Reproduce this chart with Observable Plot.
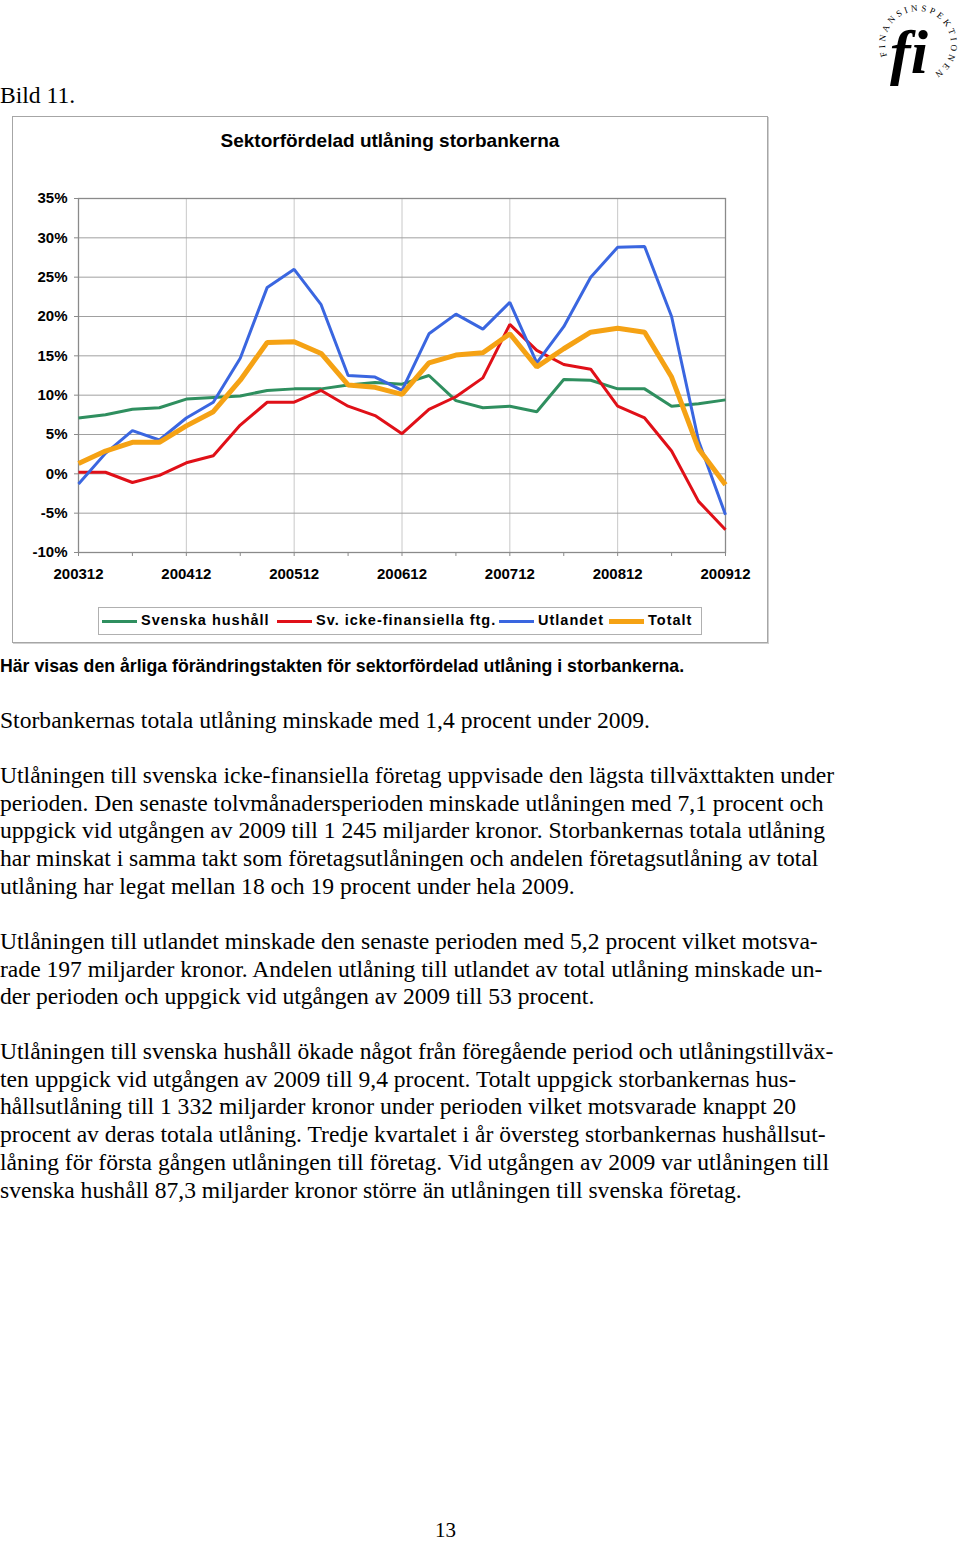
<!DOCTYPE html>
<html>
<head>
<meta charset="utf-8">
<script src="https://cdn.jsdelivr.net/npm/d3@7"></script>
<script src="https://cdn.jsdelivr.net/npm/@observablehq/plot@0.6"></script>
<style>
  html, body { margin: 0; padding: 0; background: #fff; }
  body { width: 960px; height: 1542px; position: relative; overflow: hidden; }
  .serif { font-family: "Liberation Serif", "Times New Roman", serif; font-size: 23.6px; color: #000; }
  .abs { position: absolute; white-space: nowrap; }
  .para { position: absolute; left: 0; line-height: 27.7px; white-space: nowrap; }
  #frame { position: absolute; left: 12px; top: 116px; width: 754px; height: 525px; border: 1px solid #a6a6a6; box-shadow: 1px 1px 0 #d0d0d0; }
  #title { position: absolute; left: 0; width: 754px; top: 13px; text-align: center; font-family: "Liberation Sans", Arial, sans-serif; font-weight: bold; font-size: 19px; }
  #plot { position: absolute; left: 0; top: 59px; }
  #legend { position: absolute; left: 85px; top: 490px; width: 602px; height: 26px; border: 1px solid #b0b0b0; font-family: "Liberation Sans", Arial, sans-serif; font-weight: bold; font-size: 14.5px; letter-spacing: 1px; }
  #legend .sw { position: absolute; width: 35px; }
  #legend .lab { position: absolute; top: 4px; white-space: nowrap; }
  #caption { position: absolute; left: 0; top: 656px; font-family: "Liberation Sans", Arial, sans-serif; font-weight: bold; font-size: 17.7px; white-space: nowrap; }
</style>
</head>
<body>
<svg id="logo" width="98" height="90" style="position:absolute;left:862px;top:0px" viewBox="0 0 98 90">
  <defs>
    <path id="ring" d="M 25.2 55.8 A 33 33 0 1 1 68.9 74.4"/>
  </defs>
  <text font-family="Liberation Serif, serif" font-size="9" letter-spacing="0"><textPath href="#ring" textLength="150" lengthAdjust="spacing">FINANSINSPEKTIONEN</textPath></text>
  <text x="47" y="73" text-anchor="middle" font-family="Liberation Serif, serif" font-style="italic" font-weight="bold" font-size="62">fi</text>
</svg>

<div class="abs serif" style="left:0;top:82px;">Bild 11.</div>

<div id="frame">
  <div id="title">Sektorfördelad utlåning storbankerna</div>
  <div id="plot"></div>
  <div id="legend"></div>
</div>

<div id="caption">Här visas den årliga förändringstakten för sektorfördelad utlåning i storbankerna.</div>

<div class="para serif" style="top:707px;">Storbankernas totala utlåning minskade med 1,4 procent under 2009.</div>
<div class="para serif" style="top:762px;">Utlåningen till svenska icke-finansiella företag uppvisade den lägsta tillväxttakten under<br>perioden. Den senaste tolvmånadersperioden minskade utlåningen med 7,1 procent och<br>uppgick vid utgången av 2009 till 1 245 miljarder kronor. Storbankernas totala utlåning<br>har minskat i samma takt som företagsutlåningen och andelen företagsutlåning av total<br>utlåning har legat mellan 18 och 19 procent under hela 2009.</div>
<div class="para serif" style="top:928px;">Utlåningen till utlandet minskade den senaste perioden med 5,2 procent vilket motsva-<br>rade 197 miljarder kronor. Andelen utlåning till utlandet av total utlåning minskade un-<br>der perioden och uppgick vid utgången av 2009 till 53 procent.</div>
<div class="para serif" style="top:1038px;">Utlåningen till svenska hushåll ökade något från föregående period och utlåningstillväx-<br>ten uppgick vid utgången av 2009 till 9,4 procent. Totalt uppgick storbankernas hus-<br>hållsutlåning till 1 332 miljarder kronor under perioden vilket motsvarade knappt 20<br>procent av deras totala utlåning. Tredje kvartalet i år översteg storbankernas hushållsut-<br>låning för första gången utlåningen till företag. Vid utgången av 2009 var utlåningen till<br>svenska hushåll 87,3 miljarder kronor större än utlåningen till svenska företag.</div>

<div class="abs serif" style="left:435px;top:1518px;font-size:21px;">13</div>

<script>
// ---- data ----
const periods = ["200312","200403","200406","200409","200412","200503","200506","200509","200512",
  "200603","200606","200609","200612","200703","200706","200709","200712",
  "200803","200806","200809","200812","200903","200906","200909","200912"];
const hushall  = [7.1, 7.5, 8.2, 8.4, 9.5, 9.7, 9.9, 10.6, 10.8, 10.8, 11.3, 11.6, 11.4,
  12.5, 9.3, 8.4, 8.6, 7.9, 12.0, 11.9, 10.8, 10.8, 8.6, 8.9, 9.4];
const foretag  = [0.2, 0.2, -1.1, -0.2, 1.4, 2.3, 6.2, 9.1, 9.1, 10.6, 8.6, 7.4, 5.1,
  8.2, 9.8, 12.2, 19.0, 15.7, 13.9, 13.3, 8.6, 7.1, 2.9, -3.5, -7.1];
const utlandet = [-1.3, 2.6, 5.5, 4.3, 7.1, 9.1, 14.7, 23.7, 26.0, 21.5, 12.5, 12.3, 10.6,
  17.8, 20.3, 18.4, 21.8, 14.1, 18.7, 25.0, 28.8, 28.9, 20.0, 4.2, -5.2];
const totalt   = [1.3, 2.9, 4.0, 4.0, 6.1, 7.9, 11.9, 16.7, 16.8, 15.3, 11.3, 11.0, 10.1,
  14.1, 15.1, 15.4, 17.8, 13.6, 15.9, 18.0, 18.5, 18.0, 12.3, 3.2, -1.4];
const seriesNames  = ["Svenska hushåll", "Sv. icke-finansiella ftg.", "Utlandet", "Totalt"];
const seriesValues = [hushall, foretag, utlandet, totalt];
const seriesColors = ["#2f8f5f", "#e01018", "#3a66e0", "#f5a214"];
const seriesWidths = [3, 3, 3, 5];
const yTicks = [-10, -5, 0, 5, 10, 15, 20, 25, 30, 35];
const yearTicks = ["200312","200412","200512","200612","200712","200812","200912"];
const halfYearTicks = periods.filter((p, i) => i % 2 === 0);

// ---- chart ----
const font = "Liberation Sans, Arial, sans-serif";
const idx = p => periods.indexOf(p);
const lineMarks = seriesNames.map((name, s) =>
  Plot.line(periods.map((p, i) => ({q: idx(p), value: seriesValues[s][i]})), {
    x: "q", y: "value", stroke: seriesColors[s], strokeWidth: seriesWidths[s],
    strokeLinejoin: "miter", strokeLinecap: "butt"
  })
);

const chart = Plot.plot({
  width: 754, height: 417,
  marginLeft: 65, marginRight: 42, marginTop: 22, marginBottom: 41,
  style: {fontFamily: font, background: "transparent", overflow: "visible"},
  x: {type: "linear", domain: [0, periods.length - 1]},
  y: {domain: [-10, 35]},
  marks: [
    Plot.gridX(yearTicks.map(idx), {stroke: "#c8c8c8", strokeOpacity: 1, strokeWidth: 1}),
    Plot.gridY(yTicks, {stroke: "#a0a0a0", strokeOpacity: 1, strokeWidth: 1}),
    Plot.frame({stroke: "#8a8a8a", strokeWidth: 1.3}),
    Plot.axisY(yTicks, {tickFormat: d => d + "%", tickSize: 4, tickPadding: 7, stroke: "#8a8a8a",
      fontSize: 15, fontWeight: "bold", fill: "#000", label: null}),
    Plot.axisX(halfYearTicks.map(idx), {tickSize: 4, tickFormat: () => "", stroke: "#8a8a8a", label: null}),
    Plot.axisX(yearTicks.map(idx), {tickSize: 0, tickPadding: 16, fontSize: 15, fontWeight: "bold",
      fill: "#000", label: null, tickFormat: i => periods[i]}),
    ...lineMarks
  ]
});
document.getElementById("plot").appendChild(chart);

// ---- legend ----
const legend = document.getElementById("legend");
const swatchLefts = [3, 178, 400, 510];
seriesNames.forEach((name, s) => {
  const sw = document.createElement("div");
  sw.className = "sw";
  sw.style.left = swatchLefts[s] + "px";
  sw.style.height = seriesWidths[s] + "px";
  sw.style.top = (13 - seriesWidths[s] / 2) + "px";
  sw.style.background = seriesColors[s];
  const label = document.createElement("div");
  label.className = "lab";
  label.style.left = (swatchLefts[s] + 39) + "px";
  label.textContent = name;
  legend.appendChild(sw);
  legend.appendChild(label);
});
</script>
</body>
</html>
